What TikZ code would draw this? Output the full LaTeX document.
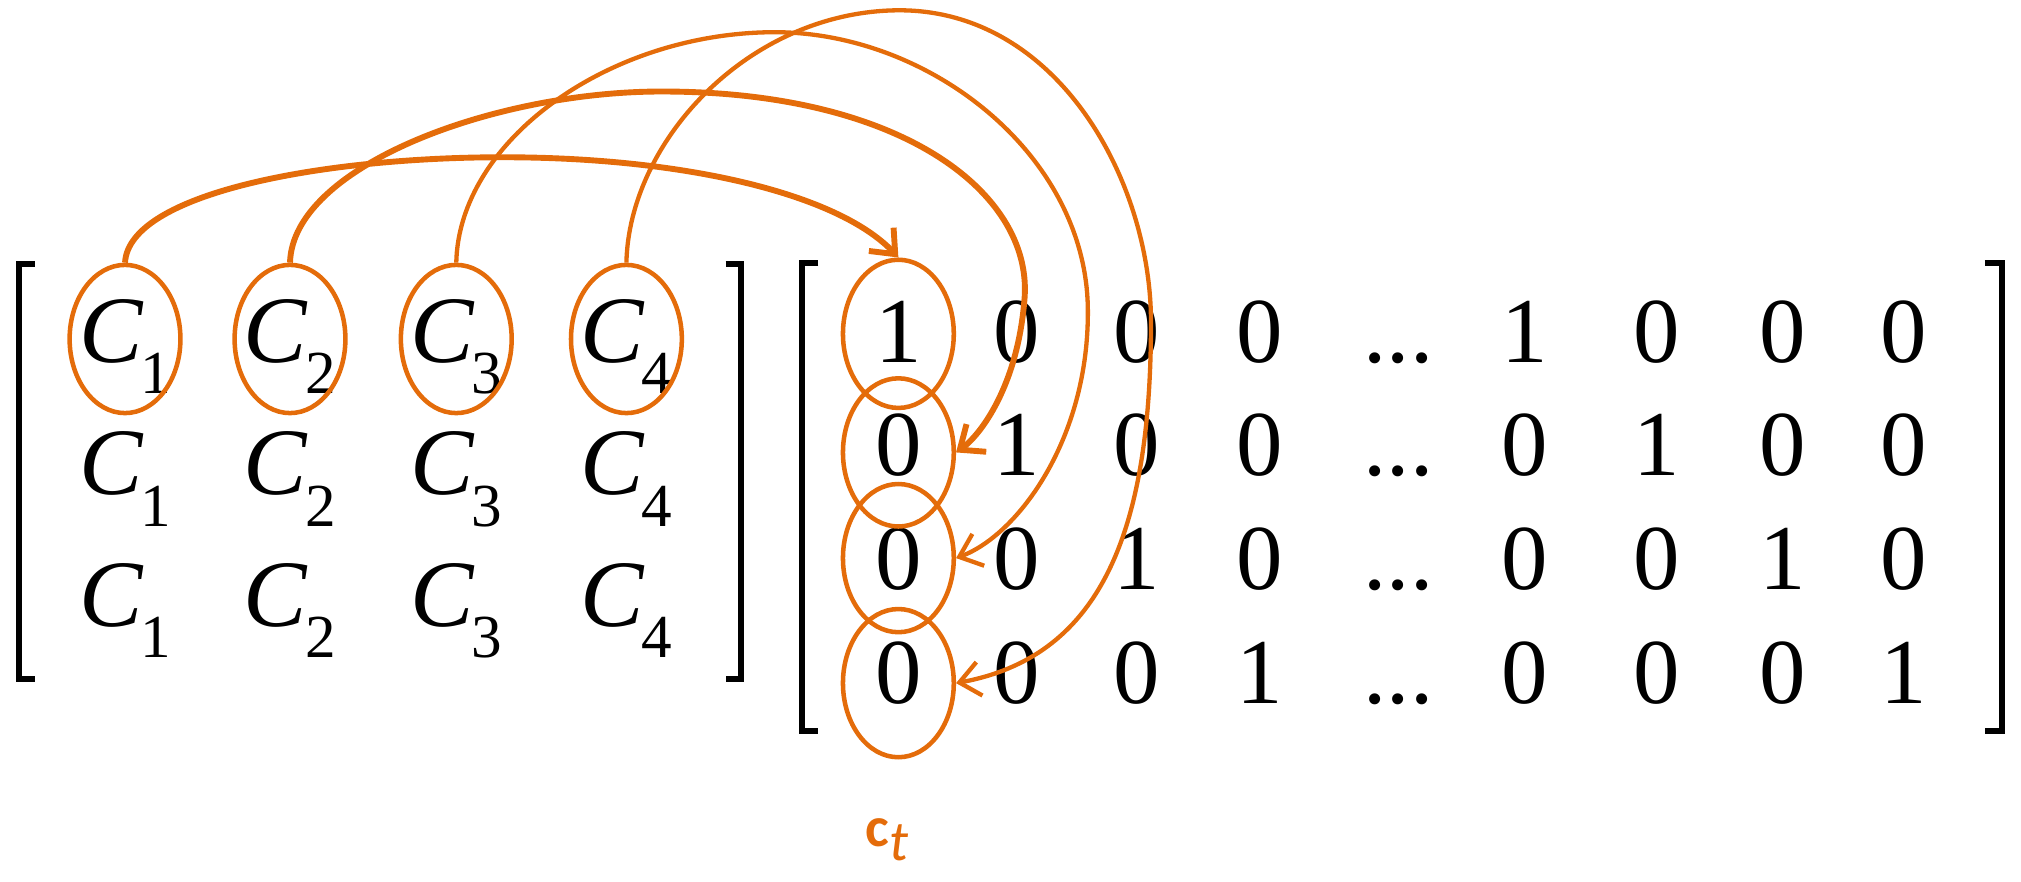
\documentclass[tikz,border=0pt]{standalone}
\usepackage{fontspec}
\setmainfont{Liberation Serif}
\newfontfamily\labelfont{Carlito}
\usetikzlibrary{arrows.meta,shapes.geometric}
\definecolor{hiOrange}{HTML}{E46C0A}
\newcommand{\Csub}[1]{\textit{C}\kern-0.03em\raisebox{-0.33em}{\fontsize{27}{27}\selectfont #1}}

\begin{document}
\begin{tikzpicture}[x=0.02cm,y=-0.02cm,>={Straight Barb[length=9pt,width=15pt]},
 entry/.style={anchor=base,inner sep=0pt,font=\fontsize{41}{41}\selectfont},
 centry/.style={anchor=base,inner sep=0pt,font=\fontsize{42}{42}\selectfont},
 ring/.style={draw=hiOrange,line width=2pt,ellipse,inner sep=0pt,minimum width=1.72cm,minimum height=2.3cm},
 bracket/.style={draw=black,line width=2.6pt,miter limit=10},
 link/.style={draw=hiOrange,->},
 thicklink/.style={link,line width=2.6pt},
 thinlink/.style={link,line width=1.9pt}]
\useasboundingbox (0,0) rectangle (1568,684);
\foreach \row/\yb in {1/281,2/384,3/486}
 \foreach \col/\xc in {1/97,2/225,3/354,4/486}
  \node[centry] (c\row\col) at (\xc,\yb) {\Csub{\col}};
\foreach \row/\yb in {1/281,2/369,3/457,4/546}{
 \foreach \col/\xa/\xb in {1/697/1183,2/789/1285,3/882/1383,4/977/1477}{
  \pgfmathtruncatemacro\val{\row==\col ? 1 : 0}
  \node[entry] (m\row a\col) at (\xa,\yb) {\val};
  \node[entry] (m\row b\col) at (\xb,\yb) {\val};
 }
 \node[entry] (dots\row) at (1085,\yb) {...};
}
\draw[bracket] (27,205) -- (15,205) -- (15,527) -- (27,527);
\draw[bracket] (563,205) -- (575,205) -- (575,527) -- (563,527);
\draw[bracket] (635,204) -- (622,204) -- (622,567) -- (635,567);
\draw[bracket] (1540,204) -- (1553,204) -- (1553,567) -- (1540,567);
\foreach \col/\xc in {1/97,2/225,3/354,4/486}
 \node[ring] (l\col) at (\xc,263) {};
\foreach \row/\yc in {1/259,2/351,3/433,4/530}
 \node[ring] (r\row) at (697,\yc) {};
\draw[thicklink] (l1.north) .. controls (100,150) and (250,122) .. (390,122)
 .. controls (530,122) and (650,150) .. (r1.north);
\draw[thicklink] (l2.north) .. controls (227,130) and (380,72) .. (510,71)
 .. controls (700,70) and (800,150) .. (795,230)
 .. controls (790,300) and (760,338) .. (r2.east);
\draw[thinlink] (l3.north) .. controls (356,110) and (470,27) .. (597,25)
 .. controls (720,23) and (843,120) .. (844,240)
 .. controls (845,340) and (790,415) .. (r3.east);
\draw[thinlink] (l4.north) .. controls (488,110) and (580,10) .. (695,8)
 .. controls (820,6) and (893,140) .. (893,250)
 .. controls (893,420) and (850,510) .. (r4.east);
\node[anchor=base,inner sep=0pt,text=hiOrange,font=\labelfont\fontsize{25}{25}\selectfont] (ct) at (688,657)
 {\textbf{c}\raisebox{-0.25em}{\textit{t}}};
\end{tikzpicture}
\end{document}
